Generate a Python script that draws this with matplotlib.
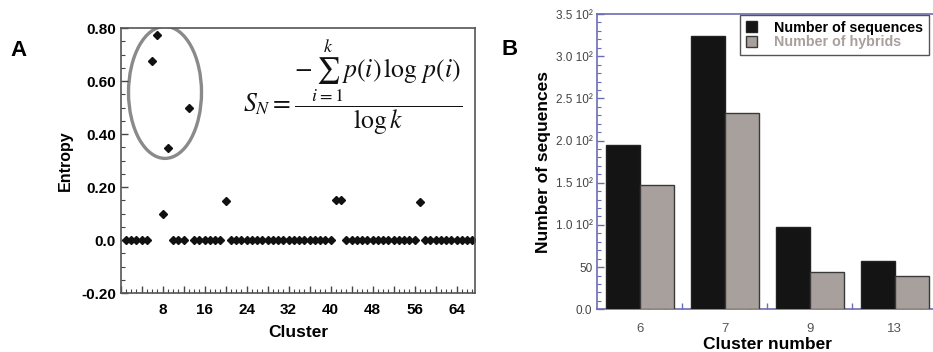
import matplotlib.pyplot as plt
from matplotlib.patches import Ellipse
from matplotlib.ticker import MultipleLocator, FuncFormatter

plt.rcParams['font.family'] = ['Liberation Sans', 'DejaVu Sans']
plt.rcParams['mathtext.fontset'] = 'stix'

# Panel A: normalised entropy per cluster (clusters 1..67)
clusters = list(range(1, 68))
entropy = [0, 0, 0, 0, 0, 0.677, 0.772, 0.098, 0.348, 0,
           0, 0, 0.50, 0, 0, 0, 0, 0, 0, 0.146,
           0, 0, 0, 0, 0, 0, 0, 0, 0, 0,
           0, 0, 0, 0, 0, 0, 0, 0, 0, 0,
           0.150, 0.150, 0, 0, 0, 0, 0, 0, 0, 0,
           0, 0, 0, 0, 0, 0, 0.143, 0, 0, 0,
           0, 0, 0, 0, 0, 0, 0]
entropy_ticks = [-0.2, 0.0, 0.2, 0.4, 0.6, 0.8]
entropy_tick_labels = ['-0.20', '0.0', '0.20', '0.40', '0.60', '0.80']

# Panel B: sequences vs hybrids in the high-entropy clusters
cluster_names = ['6', '7', '9', '13']
n_sequences = [194.7, 324.3, 97.5, 57.2]
n_hybrids = [147.3, 233.0, 44.6, 39.8]
count_ticks = [0, 50, 100, 150, 200, 250, 300, 350]
count_tick_labels = ['0.0', '50', '1.0 10²', '1.5 10²', '2.0 10²', '2.5 10²', '3.0 10²', '3.5 10²']

fig = plt.figure(figsize=(9.33, 3.52), dpi=100)

# ---------------- panel A ----------------
ax1 = fig.add_axes([0.1293, 0.1676, 0.3799, 0.7528])
ax1.plot(clusters, entropy, linestyle='none', marker='D', ms=4.4, color='#111111')
ax1.set_xlim(0, 67.5)
ax1.set_ylim(-0.2, 0.8)
ax1.xaxis.set_major_locator(MultipleLocator(4))
ax1.xaxis.set_minor_locator(MultipleLocator(1))
ax1.xaxis.set_major_formatter(FuncFormatter(lambda v, p: f'{int(v)}' if v > 0 and int(v) % 8 == 0 else ''))
ax1.set_yticks(entropy_ticks, entropy_tick_labels)
ax1.yaxis.set_minor_locator(MultipleLocator(0.05))
ax1.tick_params(which='both', direction='in', top=False, right=False, color='#444444', labelsize=11)
ax1.tick_params(which='major', length=5, width=1)
ax1.tick_params(which='minor', length=3, width=0.8)
ax1.tick_params(axis='x', which='major', pad=7)
for lab in ax1.get_xticklabels() + ax1.get_yticklabels():
    lab.set_fontweight('bold')
for s in ax1.spines.values():
    s.set_color('#555555')
    s.set_linewidth(1.2)
ax1.set_xlabel('Cluster', fontsize=12.5, fontweight='bold', labelpad=6)
ax1.set_ylabel('Entropy', fontsize=11.5, fontweight='bold', labelpad=6)

ring = Ellipse((8.45, 0.557), 13.9, 0.498, fill=False, edgecolor='#8a8a8a', lw=2.4, zorder=1)
ax1.add_patch(ring)
ax1.text(0.655, 0.775, r'$S_N = \dfrac{-\sum_{i=1}^{k} p(i)\,\log\, p(i)}{\log k}$',
         transform=ax1.transAxes, ha='center', va='center', fontsize=18.5, color='#111111')

fig.text(0.011, 0.84, 'A', fontsize=16, fontweight='bold')

# ---------------- panel B ----------------
ax2 = fig.add_axes([0.6402, 0.1213, 0.3644, 0.8389])
pos = list(range(len(cluster_names)))
w = 0.4
ax2.bar([p - w / 2 for p in pos], n_sequences, w, color='#141414', edgecolor='#222222', lw=1,
        label='Number of sequences', zorder=3)
ax2.bar([p + w / 2 for p in pos], n_hybrids, w, color='#a8a09c', edgecolor='#3a3a3a', lw=1,
        label='Number of hybrids', zorder=3)
ax2.set_xlim(-0.5, 3.5)
ax2.set_ylim(0, 350)
ax2.set_xticks(pos, cluster_names)
ax2.set_xticks([p + d for p in pos for d in (0.1, 0.3, 0.5)], minor=True)
ax2.set_yticks(count_ticks, count_tick_labels)
ax2.yaxis.set_minor_locator(MultipleLocator(10))
blue = '#6c6cb4'
ax2.tick_params(which='both', direction='in', top=False, right=False, color=blue)
ax2.tick_params(axis='x', which='major', length=0, labelsize=9.5, labelcolor='#555555', pad=10)
ax2.tick_params(axis='x', which='minor', length=4, width=1)
ax2.tick_params(axis='y', which='major', length=5, width=1, labelsize=8.5, labelcolor='#444444')
ax2.tick_params(axis='y', which='minor', length=3, width=0.8)
for s in ax2.spines.values():
    s.set_color(blue)
    s.set_linewidth(1.2)
ax2.set_xlabel('Cluster number', fontsize=12.5, fontweight='bold', labelpad=1)
ax2.set_ylabel('Number of sequences', fontsize=12.5, fontweight='bold', labelpad=3)

leg = fig.legend(loc='upper left', bbox_to_anchor=(740 / 933, 1 - 15 / 352), borderaxespad=0,
                 fancybox=False, edgecolor='#555555', framealpha=1,
                 prop={'weight': 'bold', 'size': 10.3}, handlelength=0.8, handleheight=0.8,
                 handletextpad=1.2, labelspacing=0.05, borderpad=0.4)
leg.get_frame().set_linewidth(1)
leg.get_texts()[1].set_color('#a8a09c')

fig.text(0.538, 0.845, 'B', fontsize=16, fontweight='bold')

fig.savefig('out.png', dpi=100)
